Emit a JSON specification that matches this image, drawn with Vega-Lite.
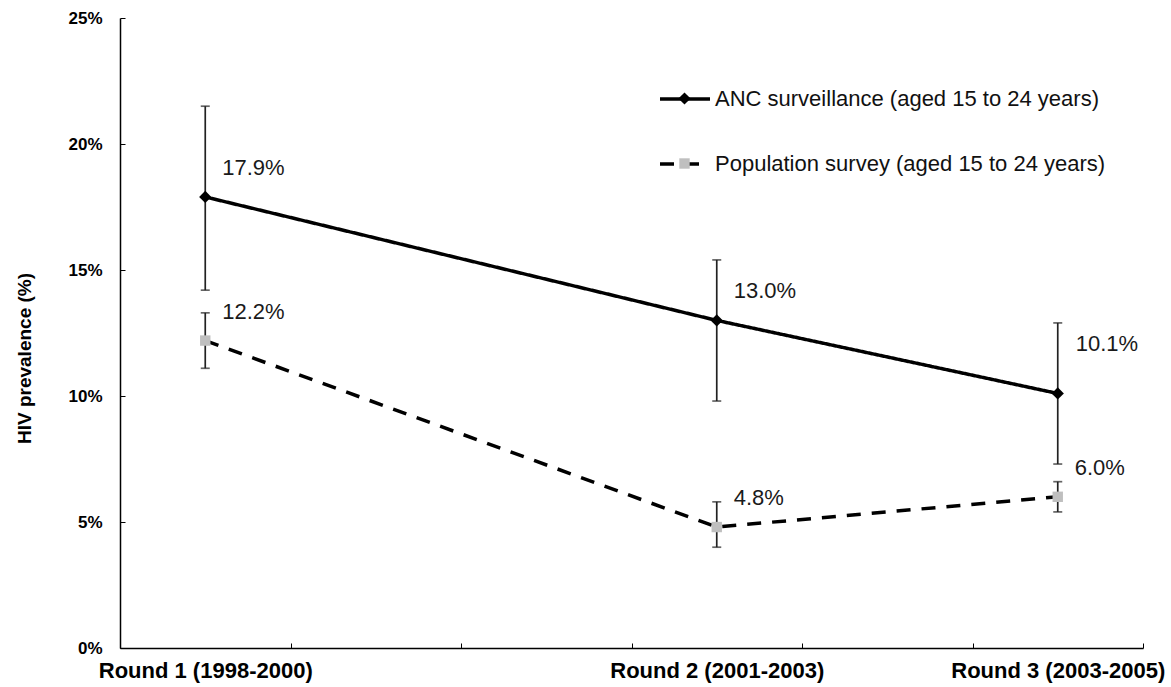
{
  "$schema": "https://vega.github.io/schema/vega-lite/v6.json",
  "width": 1023,
  "height": 630,
  "autosize": {"type": "none"},
  "padding": {"left": 120, "top": 18, "right": 28, "bottom": 39},
  "background": "white",
  "config": {
    "view": {"stroke": null},
    "font": "Liberation Sans",
    "axis": {"grid": false, "domainColor": "black", "domainWidth": 1.5, "tickColor": "black", "tickWidth": 1, "labelColor": "black", "titleColor": "black", "labelFont": "Liberation Sans", "titleFont": "Liberation Sans"},
    "legend": {"labelFont": "Liberation Sans"}
  },
  "data": {
    "values": [
      {"year": 1999, "series": "ANC surveillance (aged 15 to 24 years)", "code": "ANC", "value": 0.179, "lo": 0.142, "hi": 0.215},
      {"year": 2002, "series": "ANC surveillance (aged 15 to 24 years)", "code": "ANC", "value": 0.130, "lo": 0.098, "hi": 0.154},
      {"year": 2004, "series": "ANC surveillance (aged 15 to 24 years)", "code": "ANC", "value": 0.101, "lo": 0.073, "hi": 0.129},
      {"year": 1999, "series": "Population survey (aged 15 to 24 years)", "code": "Population", "value": 0.122, "lo": 0.111, "hi": 0.133},
      {"year": 2002, "series": "Population survey (aged 15 to 24 years)", "code": "Population", "value": 0.048, "lo": 0.040, "hi": 0.058},
      {"year": 2004, "series": "Population survey (aged 15 to 24 years)", "code": "Population", "value": 0.060, "lo": 0.054, "hi": 0.066}
    ]
  },
  "encoding": {
    "x": {
      "field": "year",
      "type": "quantitative",
      "scale": {"domain": [1998.5, 2004.5], "nice": false, "zero": false},
      "axis": {
        "title": null,
        "values": [1998.5, 1999, 1999.5, 2000.5, 2001.5, 2002, 2002.5, 2003.5, 2004, 2004.5],
        "labelExpr": "datum.value == 1999 ? 'Round 1 (1998-2000)' : datum.value == 2002 ? 'Round 2 (2001-2003)' : datum.value == 2004 ? 'Round 3 (2003-2005)' : ''",
        "tickOpacity": {"condition": {"test": "datum.value == 1999 || datum.value == 2002 || datum.value == 2004", "value": 0}, "value": 1},
        "tickSize": -5,
        "labelPadding": 17,
        "labelFontSize": 22,
        "labelFontWeight": "bold",
        "labelFlush": false,
        "labelOverlap": false,
        "labelBound": false,
        "labelLimit": 0
      }
    },
    "y": {
      "field": "value",
      "type": "quantitative",
      "scale": {"domain": [0, 0.25], "nice": false},
      "axis": {
        "title": "HIV prevalence (%)",
        "values": [0, 0.05, 0.1, 0.15, 0.2, 0.25],
        "format": ".0%",
        "tickSize": -5,
        "labelPadding": 23,
        "labelFontSize": 17,
        "labelFontWeight": "bold",
        "labelOverlap": false,
        "titleFontSize": 19,
        "titleFontWeight": "bold",
        "titleX": -86,
        "titleY": 340,
        "titleAngle": -90,
        "titleBaseline": "bottom"
      }
    }
  },
  "layer": [
    {
      "mark": {"type": "rule", "color": "#222222", "strokeWidth": 1.7},
      "encoding": {"y": {"field": "lo", "type": "quantitative"}, "y2": {"field": "hi"}}
    },
    {
      "mark": {"type": "tick", "orient": "horizontal", "color": "#222222", "size": 9, "thickness": 1.7},
      "encoding": {"y": {"field": "lo", "type": "quantitative"}}
    },
    {
      "mark": {"type": "tick", "orient": "horizontal", "color": "#222222", "size": 9, "thickness": 1.7},
      "encoding": {"y": {"field": "hi", "type": "quantitative"}}
    },
    {
      "mark": {"type": "line", "color": "black", "strokeWidth": 3.5},
      "encoding": {
        "strokeDash": {
          "field": "series",
          "type": "nominal",
          "scale": {"range": [[1, 0], [14, 11]]},
          "legend": {
            "title": null,
            "orient": "none",
            "legendX": 538,
            "legendY": 54,
            "padding": 0,
            "symbolType": "stroke",
            "symbolSize": 2500,
            "symbolStrokeWidth": 3.5,
            "symbolStrokeColor": "black",
            "labelFontSize": 22,
            "labelColor": "#111111",
            "labelOffset": 3,
            "labelLimit": 0,
            "rowPadding": 27
          }
        }
      }
    },
    {
      "mark": {"type": "point", "filled": true, "size": 150, "opacity": 1, "strokeWidth": 0},
      "encoding": {
        "shape": {
          "field": "code",
          "type": "nominal",
          "scale": {"range": ["M0,-1L1,0L0,1L-1,0Z", "M-0.85,-0.85H0.85V0.85H-0.85Z"]},
          "legend": {
            "title": null,
            "orient": "none",
            "legendX": 558,
            "legendY": 74,
            "padding": 0,
            "symbolSize": 150,
            "symbolStrokeWidth": 0,
            "labelExpr": "''",
            "labelFontSize": 1,
            "labelOffset": 0,
            "rowPadding": 52
          }
        },
        "fill": {
          "field": "code",
          "type": "nominal",
          "scale": {"range": ["black", "#bfbfbf"]},
          "legend": {
            "title": null,
            "orient": "none",
            "legendX": 558,
            "legendY": 74,
            "padding": 0,
            "symbolSize": 150,
            "symbolStrokeWidth": 0,
            "labelExpr": "''",
            "labelFontSize": 1,
            "labelOffset": 0,
            "rowPadding": 52
          }
        }
      }
    },
    {
      "transform": [{"filter": "datum.code != 'ANC' || datum.year != 2004"}],
      "mark": {"type": "text", "align": "left", "baseline": "middle", "dx": 17, "dy": -29, "fontSize": 22, "color": "#1a1a1a"},
      "encoding": {"text": {"field": "value", "type": "quantitative", "format": ".1%"}}
    },
    {
      "transform": [{"filter": "datum.code == 'ANC' && datum.year == 2004"}],
      "mark": {"type": "text", "align": "left", "baseline": "middle", "dx": 18, "dy": -49, "fontSize": 22, "color": "#1a1a1a"},
      "encoding": {"text": {"field": "value", "type": "quantitative", "format": ".1%"}}
    }
  ]
}
